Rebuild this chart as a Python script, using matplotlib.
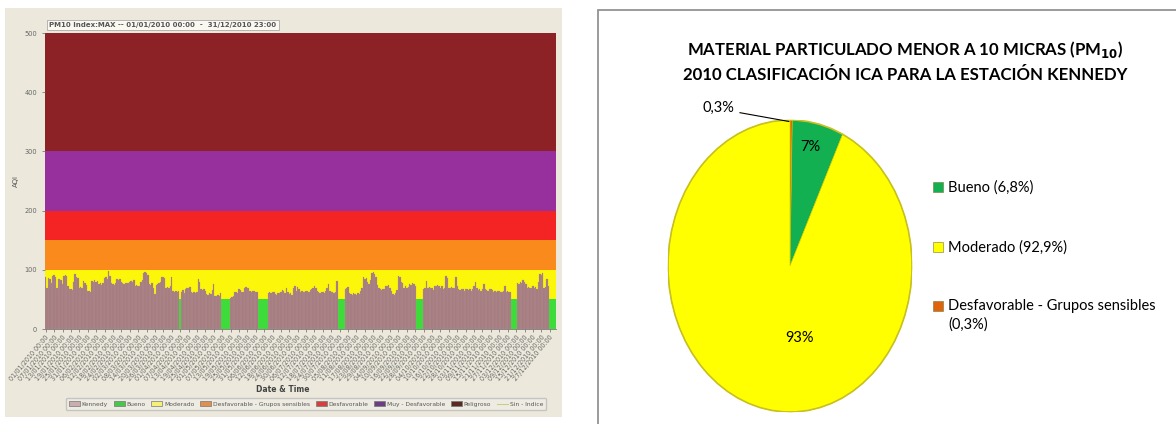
import numpy as np
import pandas as pd
import matplotlib
matplotlib.use("Agg")
import matplotlib.pyplot as plt
from matplotlib.patches import Rectangle, Ellipse
from matplotlib.lines import Line2D

# daily PM10 AQI, Kennedy station 2010 (None = no bar, Bueno band visible)
kennedy = [
    88, 70, 86, 84, 78, 90, 91, 88, 70, 84,
    85, 82, 76, 90, 91, 89, 72, 67, 68, 66,
    80, 93, 87, 86, 70, 71, 69, 81, 78, 74,
    64, 65, 63, 81, 80, 82, 79, 81, 76, 77,
    75, 78, 86, 87, 85, 98, 90, 78, 76, 75,
    77, 84, 83, 85, 79, 77, 76, 78, 78, 77,
    79, 81, 80, 82, 73, 74, 72, 73, 80, 83,
    95, 96, 94, 92, 76, 75, 77, 70, 59, 75,
    76, 77, 80, 87, 88, 86, 70, 71, 69, 72,
    87, 64, 63, 65, 62, 64, None, 62, 66, 61,
    67, 70, 69, 71, 62, 61, 63, 60, 62, 84,
    80, 67, 66, 68, 65, 59, 58, 60, 59, 66,
    76, 56, 55, 57, 56, 60, None, None, None, None,
    None, None, 53, 54, 55, 62, 63, 61, 67, 66,
    62, 63, 70, 71, 69, 70, 64, 63, 65, 64,
    63, 62, None, None, None, None, None, None, None, 60,
    62, 61, 63, 62, 59, 58, 60, 61, 62, 66,
    64, 60, 70, 62, 59, 60, 58, 70, 72, 65,
    71, 68, 62, 64, 63, 62, 65, 64, 63, 66,
    68, 70, 72, 69, 64, 62, 61, 63, 62, 61,
    64, 70, 76, 65, 63, 62, 61, 63, 81, None,
    None, None, None, None, 68, 70, 71, 60, 59, 58,
    60, 59, 58, 61, 59, 64, 70, 87, 84, 86,
    79, 76, 82, 95, 97, 93, 87, 74, 70, 67,
    66, 68, 67, 73, 72, 74, 70, 64, 59, 58,
    60, 66, 90, 88, 80, 78, 70, 72, 69, 71,
    76, 75, 77, 76, 72, None, None, None, None, None,
    68, 70, 81, 70, 71, 69, 70, 66, 73, 72,
    74, 73, 69, 72, 68, 70, 90, 86, 70, 69,
    71, 70, 69, 87, 72, 67, 66, 68, 67, 65,
    67, 68, 66, 67, 65, 68, 73, 79, 70, 66,
    67, 65, 68, 76, 67, 66, 64, 68, 67, 66,
    62, 64, 63, 64, 65, 62, 63, 64, 73, 63,
    64, 62, 63, None, None, None, None, 78, 76, 80,
    77, 82, 79, 76, 70, 71, 69, 70, 72, 70,
    71, 68, 79, 93, 92, 94, 70, 71, 84, 72,
    None, None, None, None, None,
]

band_names = ["Bueno", "Moderado", "Desfavorable - Grupos sensibles",
              "Desfavorable", "Muy - Desfavorable", "Peligroso"]
band_limits = [0, 50, 100, 150, 200, 300, 500]
band_colors = ["#3ddc3a", "#fbf60a", "#fb8a1c", "#f42424", "#97309c", "#8c2226"]
legend_colors = ["#46c84a", "#f4f07a", "#e0904e", "#d34040", "#6e3c82", "#5a2a22"]

pie_labels = ["Desfavorable - Grupos sensibles\n(0,3%)", "Bueno (6,8%)", "Moderado (92,9%)"]
pie_values = [0.3, 6.8, 92.9]
pie_text = ["0,3%", "7%", "93%"]
pie_colors = ["#e0640c", "#12b050", "#ffff00"]

dates = pd.date_range("2010-01-01", periods=len(kennedy), freq="D")
vals = np.array([np.nan if v is None else v for v in kennedy], dtype=float)
days = np.arange(len(vals))
ok = ~np.isnan(vals)

W, H = 1176, 424
fig = plt.figure(figsize=(W / 100, H / 100), dpi=100)
fig.patch.set_facecolor("white")

# left panel background
fig.patches.append(Rectangle((5 / W, 1 - 417 / H), 557 / W, 409 / H,
                             transform=fig.transFigure, fc="#ece9dc", ec="none", zorder=-5))
# right panel frame
fig.patches.append(Rectangle((598 / W, -0.01), 0.5, 1 - 10 / H + 0.01,
                             transform=fig.transFigure, fc="white", ec="#8a8a8a", lw=1.2, zorder=-5))

ax = fig.add_axes([45 / W, 1 - 329 / H, 511 / W, 296 / H])
ax.patch.set_alpha(0)
for i in range(len(band_names)):
    ax.axhspan(band_limits[i], band_limits[i + 1], color=band_colors[i], lw=0, zorder=1)
ax.bar(days[ok], vals[ok], width=1.0, color="#a47a7e", edgecolor="#b8979a", lw=0.15, zorder=2)
ax.set_xlim(-0.5, len(vals) - 0.5)
ax.set_ylim(0, 500)
ax.set_yticks([0, 100, 200, 300, 400, 500])
ticks = days[::6]
ax.set_xticks(ticks)
ax.set_xticklabels([dates[t].strftime("%d/%m/%Y %H:%M") for t in ticks],
                   rotation=50, ha="right", rotation_mode="anchor", fontsize=4.7, color="#6a6a6a")
ax.tick_params(axis="y", labelsize=4.8, colors="#666666", length=2, width=0.5)
ax.tick_params(axis="x", length=2, width=0.5, colors="#666666", pad=1.5)
for s in ax.spines.values():
    s.set_visible(False)
ax.spines["bottom"].set_visible(True)
ax.spines["bottom"].set_color("#777777")
ax.spines["bottom"].set_linewidth(0.6)
ax.set_ylabel("AQI", fontsize=5, color="#555555", labelpad=4)
fig.text(283 / W, 1 - 390 / H, "Date & Time", fontsize=5.5, fontweight="bold",
         color="#444444", ha="center", va="center")
fig.text(49 / W, 1 - 25 / H, "PM10 Index:MAX -- 01/01/2010 00:00  -  31/12/2010 23:00",
         fontsize=5, fontweight="bold", color="#555555", va="center",
         bbox=dict(boxstyle="square,pad=0.35", fc="#faf8f0", ec="#aaaaaa", lw=0.6), zorder=5)

handles = [Rectangle((0, 0), 1, 1, fc="#c9aeae", ec="#777777", lw=0.5)]
handles += [Rectangle((0, 0), 1, 1, fc=c, ec="#777777", lw=0.5) for c in legend_colors]
handles += [Line2D([0], [0], color="#cccc88", lw=0.8)]
labels = ["Kennedy"] + band_names + ["Sin - Indice"]
fig.legend(handles, labels, loc="center", bbox_to_anchor=(306 / W, 1 - 404 / H), ncol=8,
           fontsize=4.3, frameon=True, fancybox=True, edgecolor="#bbbbbb", facecolor="#efede4",
           handlelength=1.8, handleheight=0.9, handletextpad=0.3, columnspacing=1.0,
           borderpad=0.5, labelcolor="#555555")

# pie chart (stretched ellipse like the original)
fnt = ["Lato", "DejaVu Sans"]
ax2 = fig.add_axes([668 / W, 1 - 412 / H, 244 / W, 292 / H])
wedges, _ = ax2.pie(pie_values, colors=pie_colors, startangle=90, counterclock=False,
                    wedgeprops=dict(lw=0.4, edgecolor="#c9c200"))
ax2.set_aspect("auto")
ax2.set_xlim(-1, 1)
ax2.set_ylim(-1, 1)
ax2.add_patch(Ellipse((0, 0), 2, 2, fc="none", ec="#c8c020", lw=1.2))
ax2.text(-0.59, 1.08, pie_text[0], fontsize=10.5, family=fnt, ha="center", va="center", clip_on=False)
ax2.plot([-0.41, -0.01], [1.05, 0.99], color="black", lw=0.8, clip_on=False)
ax2.text(0.17, 0.815, pie_text[1], fontsize=10.5, family=fnt, ha="center", va="center")
ax2.text(0.08, -0.49, pie_text[2], fontsize=10.5, family=fnt, ha="center", va="center")

fig.text(905 / W, 1 - 49 / H, "MATERIAL PARTICULADO MENOR A 10 MICRAS (PM$_{\\mathbf{10}}$)",
         fontsize=12.1, fontweight="bold", family=fnt, ha="center", va="center")
fig.text(905 / W, 1 - 75 / H, "2010 CLASIFICACIÓN ICA PARA LA ESTACIÓN KENNEDY",
         fontsize=12.1, fontweight="bold", family=fnt, ha="center", va="center")

leg_y = [187, 247, 306]
order = [1, 2, 0]
for y, i in zip(leg_y, order):
    fig.patches.append(Rectangle((933 / W, 1 - (y + 5) / H), 10 / W, 10 / H,
                                 transform=fig.transFigure, fc=pie_colors[i],
                                 ec="#777733", lw=0.4, zorder=3))
    fig.text(948 / W, 1 - (y - 7) / H, pie_labels[i], fontsize=10.5, family=fnt,
             va="top", ha="left", linespacing=1.35)

fig.savefig("out.png", dpi=100, facecolor="white")
